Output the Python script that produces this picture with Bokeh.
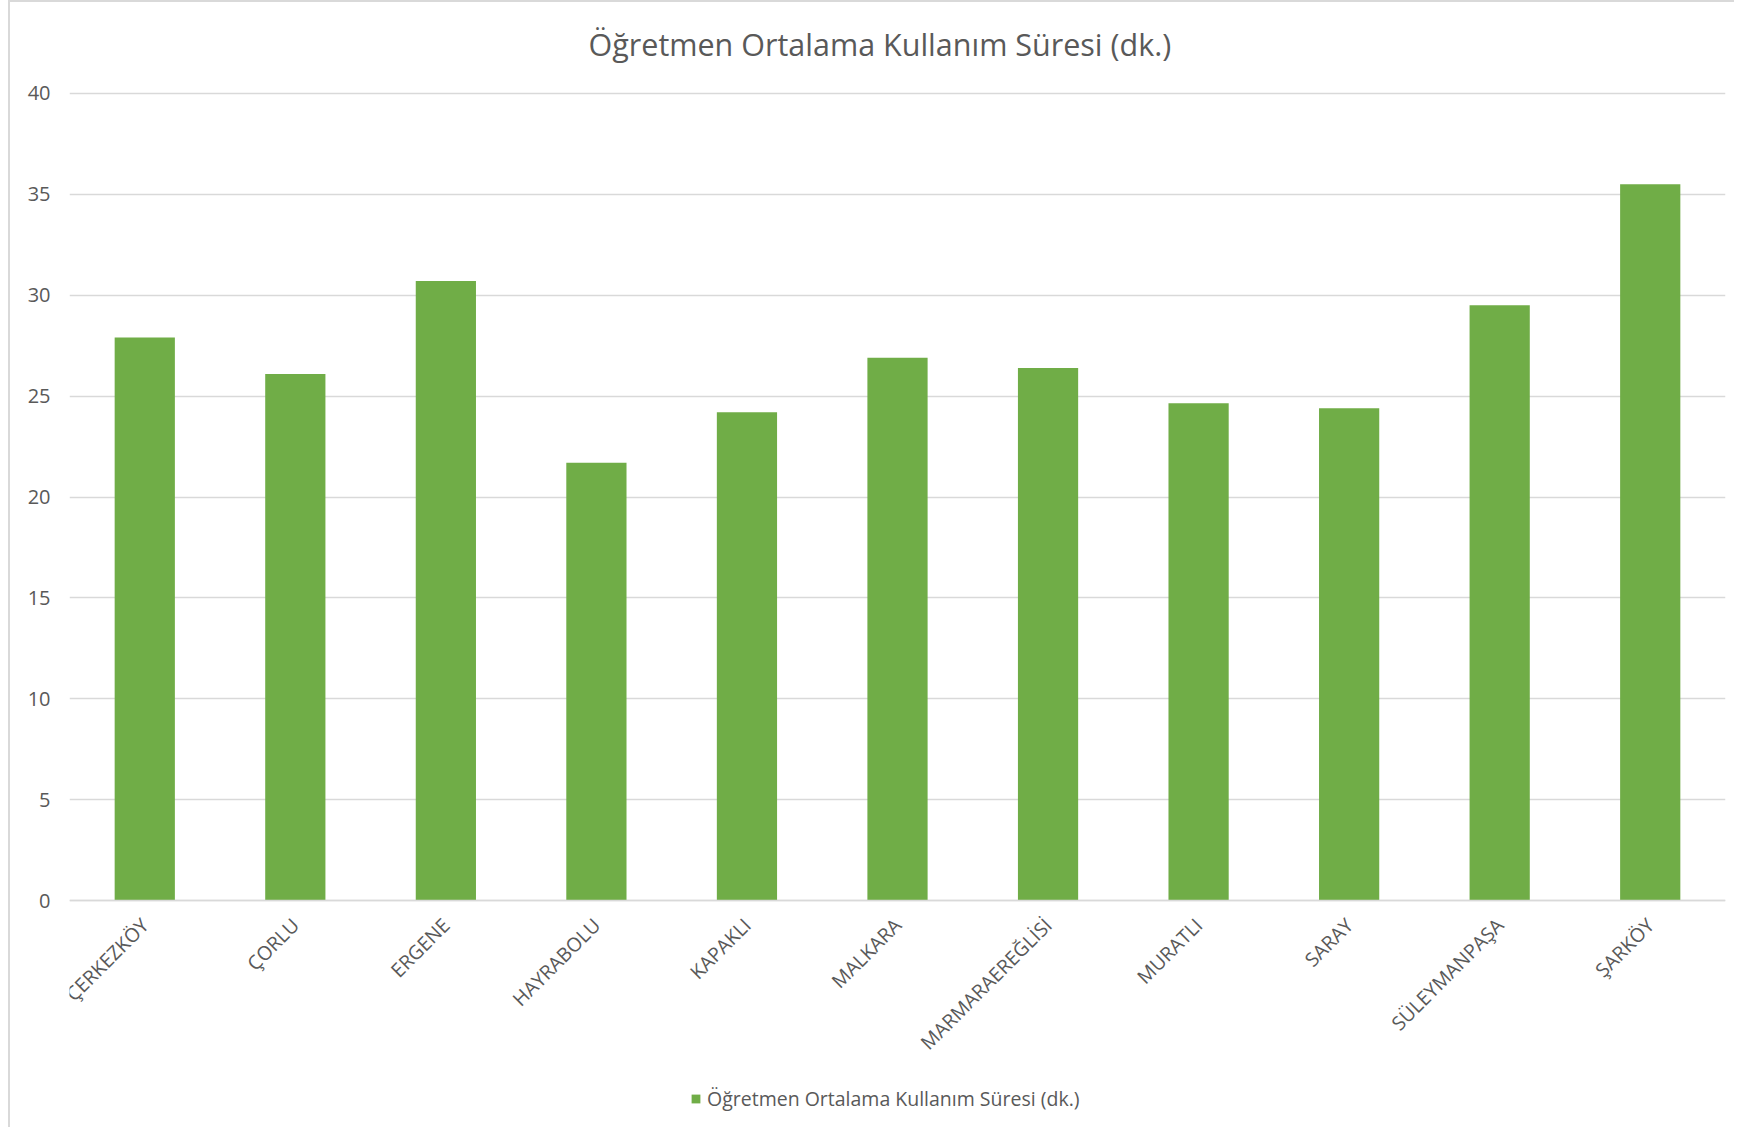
import math
from bokeh.plotting import figure
from bokeh.models import (ColumnDataSource, FactorRange, Range1d, Legend,
                          LegendItem, FixedTicker, Label)
from bokeh.embed import file_html
from bokeh.resources import INLINE

# ---- data ----
districts = ["ÇERKEZKÖY", "ÇORLU", "ERGENE", "HAYRABOLU", "KAPAKLI", "MALKARA",
             "MARMARAEREĞLİSİ", "MURATLI", "SARAY", "SÜLEYMANPAŞA", "ŞARKÖY"]
avg_minutes = [27.9, 26.1, 30.7, 21.7, 24.2, 26.9, 26.4, 24.65, 24.4, 29.5, 35.5]
y_ticks = [0, 5, 10, 15, 20, 25, 30, 35, 40]
series_name = "Öğretmen Ortalama Kullanım Süresi (dk.)"
chart_title = "Öğretmen Ortalama Kullanım Süresi (dk.)"

FONT = "Open Sans"
TXT = "#595959"
GRID = "#d9d9d9"
GREEN = "#70AD47"

src = ColumnDataSource(dict(x=districts, top=avg_minutes))

# frame spans the whole canvas height; the value axis 0..40 sits inside it
p = figure(x_range=FactorRange(*districts, range_padding=0),
           y_range=Range1d(-11.35, 44.51),
           width=1726, height=1127,
           output_backend="svg", toolbar_location=None,
           min_border_left=59, min_border_right=11,
           min_border_top=0, min_border_bottom=0)
p.styles = {"margin-left": "8px",
            "border-left": "2px solid #d9d9d9", "border-top": "2px solid #d9d9d9"}
p.outline_line_color = None
p.background_fill_color = "white"
p.border_fill_color = "white"

bars = p.vbar(x="x", top="top", width=0.4, source=src,
              fill_color=GREEN, line_color=None)

# grid
p.xgrid.grid_line_color = None
p.ygrid.ticker = FixedTicker(ticks=y_ticks)
p.ygrid.grid_line_color = GRID
p.ygrid.grid_line_width = 1.5

# y axis
p.yaxis.ticker = FixedTicker(ticks=y_ticks)
p.yaxis.axis_line_color = None
p.yaxis.major_tick_line_color = None
p.yaxis.minor_tick_line_color = None
p.yaxis.major_tick_out = 0
p.yaxis.major_label_standoff = 19
p.yaxis.major_label_text_font = FONT
p.yaxis.major_label_text_font_size = "20px"
p.yaxis.major_label_text_color = TXT

# x axis, pinned at value 0
p.xaxis.fixed_location = 0
p.xaxis.axis_line_color = GRID
p.xaxis.axis_line_width = 1.5
p.xaxis.major_tick_line_color = None
p.xaxis.minor_tick_line_color = None
p.xaxis.major_tick_out = 0
p.xaxis.major_label_orientation = math.pi / 4
p.xaxis.major_label_standoff = 21
p.xaxis.major_label_text_font = FONT
p.xaxis.major_label_text_font_size = "19.5px"
p.xaxis.major_label_text_color = TXT

# chart title
title = Label(x=0, y=40, x_offset=519, y_offset=49, text=chart_title,
              text_align="left", text_baseline="middle",
              text_font=FONT, text_font_size="30.5px", text_color=TXT)
p.add_layout(title)

legend = Legend(items=[LegendItem(label=series_name, renderers=[bars])],
                location=(621, 17), orientation="horizontal",
                glyph_width=11, glyph_height=11, label_standoff=6,
                padding=0, margin=0, border_line_color=None,
                background_fill_alpha=0,
                label_text_font=FONT, label_text_font_size="19.5px",
                label_text_color=TXT)
p.add_layout(legend)

open("out.html", "w").write(file_html(p, INLINE))
